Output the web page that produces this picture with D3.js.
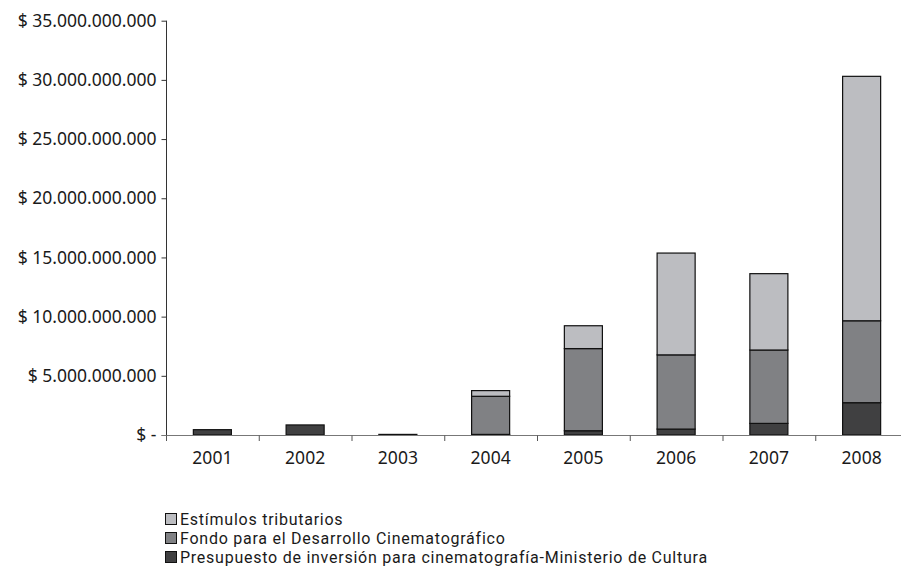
<!DOCTYPE html>
<html><head><meta charset="utf-8">
<script src="https://cdn.jsdelivr.net/npm/d3@7"></script>
<style>body{margin:0;background:#fff;} svg{display:block;} text{font-family:"Noto Sans",sans-serif;fill:#1a1a1a;}</style>
</head><body><svg id="c" width="901" height="572"></svg>
<script>
const years = ["2001","2002","2003","2004","2005","2006","2007","2008"];
const presupuesto = [0.45e9, 0.85e9, 0.05e9, 0.05e9, 0.36e9, 0.5e9, 0.98e9, 2.73e9];
const fondo = [0, 0, 0, 3.22e9, 6.94e9, 6.27e9, 6.2e9, 6.92e9];
const estimulos = [0, 0, 0, 0.48e9, 1.93e9, 8.6e9, 6.45e9, 20.65e9];
const yTicks = [0, 5e9, 10e9, 15e9, 20e9, 25e9, 30e9, 35e9];
const seriesNames = ["Presupuesto de inversión para cinematografía-Ministerio de Cultura", "Fondo para el Desarrollo Cinematográfico", "Estímulos tributarios"];
const seriesColors = ["#404041", "#808184", "#bcbdc1"];

const svg = d3.select("#c");
const x = d3.scaleBand().domain(years).range([166, 908]).paddingInner(0.59).paddingOuter(0.295);
const y = d3.scaleLinear().domain([0, 35e9]).range([435, 20.7]);

const rows = years.map((yr, i) => ({year: yr, p: presupuesto[i], f: fondo[i], e: estimulos[i]}));
const stack = d3.stack().keys(["p", "f", "e"])(rows);

const fmt = v => v === 0 ? "$ -" : "$ " + d3.format(",")(v).replace(/,/g, ".");

// bars
stack.forEach((layer, li) => {
  svg.append("g").selectAll("rect").data(layer.filter(d => d[1] - d[0] > 0)).join("rect")
    .attr("x", d => x(d.data.year))
    .attr("width", x.bandwidth())
    .attr("y", d => y(d[1]))
    .attr("height", d => y(d[0]) - y(d[1]))
    .attr("fill", seriesColors[li])
    .attr("stroke", "#111")
    .attr("stroke-width", 1.2);
});

// y axis
const ya = svg.append("g").attr("transform", "translate(166.5,0)")
  .call(d3.axisLeft(y).tickValues(yTicks).tickFormat(fmt).tickSize(5).tickPadding(5));
ya.select(".domain").attr("stroke", "#333").attr("d", "M0," + y(35e9) + "V" + y(0));
ya.selectAll(".tick line").attr("stroke", "#333");
ya.selectAll(".tick text").attr("font-size", 17.5).attr("fill", "#1a1a1a");

// x axis
const xa = svg.append("g").attr("transform", "translate(0,435.5)")
  .call(d3.axisBottom(x).tickSize(0).tickPadding(16));
xa.select(".domain").attr("stroke", "#777").attr("d", "M162,0H908");
xa.selectAll(".tick text").attr("font-size", 17.5).attr("fill", "#1a1a1a");
const step = x.step();
svg.append("g").selectAll("line").data(years.concat(["end"])).join("line")
  .attr("x1", (d, i) => 166.5 + i * step).attr("x2", (d, i) => 166.5 + i * step)
  .attr("y1", 435.5).attr("y2", 441).attr("stroke", "#555");

// legend
const legOrder = [2, 1, 0];
const lg = svg.append("g");
legOrder.forEach((si, k) => {
  const cy = 519 + k * 19;
  lg.append("rect").attr("x", 165.5).attr("y", cy - 5.5).attr("width", 11).attr("height", 11)
    .attr("fill", seriesColors[si]).attr("stroke", "#111").attr("stroke-width", 1);
  lg.append("text").attr("x", 180).attr("y", cy + 5.5)
    .style("font-family", "Roboto, sans-serif").attr("font-size", 16).attr("letter-spacing", 0.75)
    .text(seriesNames[si]);
});
</script></body></html>
